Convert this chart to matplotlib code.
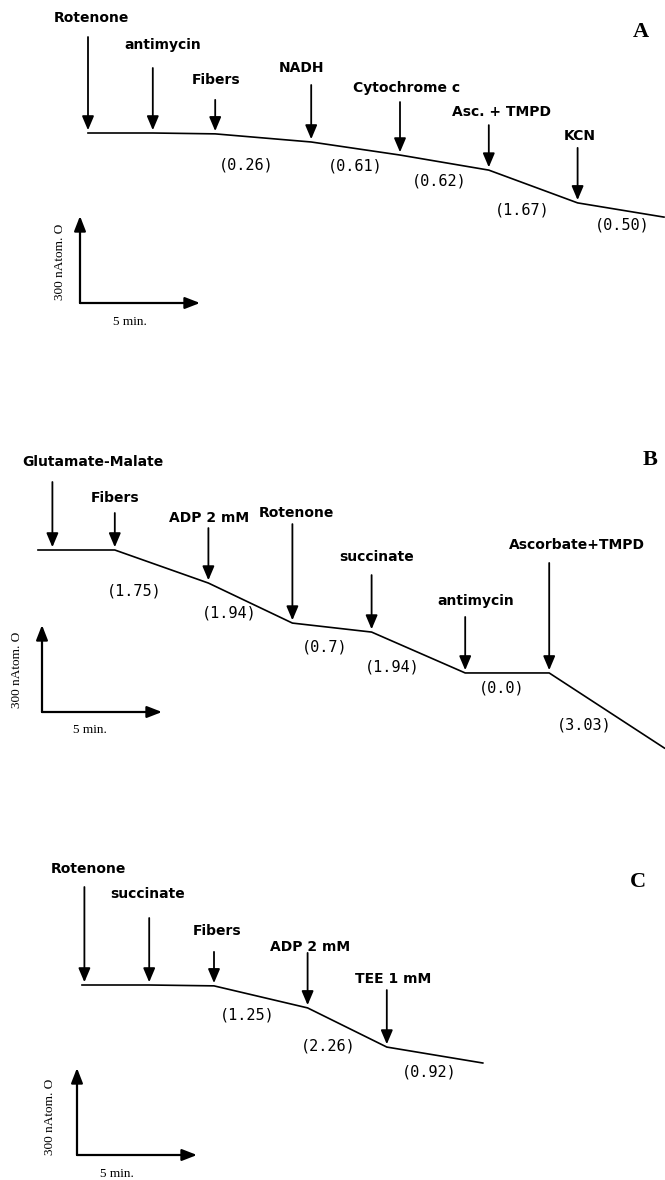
import numpy as np
import matplotlib.pyplot as plt

# ---- data: oxygen consumption traces (time in min, O consumed in nAtom) ----
# panel A
a_time = [0, 2.7, 5.3, 9.3, 13.0, 16.7, 20.4, 24.0]
a_o2 = [0, 0, 3, 31, 76, 128, 241, 290]
a_events = ['Rotenone', 'antimycin', 'Fibers', 'NADH', 'Cytochrome c', 'Asc. + TMPD', 'KCN']
a_event_time = [0, 2.7, 5.3, 9.3, 13.0, 16.7, 20.4]
a_rates = ['(0.26)', '(0.61)', '(0.62)', '(1.67)', '(0.50)']
a_rate_seg = [2, 3, 4, 5, 6]

# panel B
b_time = [0, 3.2, 7.1, 10.6, 13.9, 17.8, 21.3, 26.1]
b_o2 = [0, 0, 114, 252, 283, 424, 424, 683]
b_events = ['Glutamate-Malate', 'Fibers', 'ADP 2 mM', 'Rotenone', 'succinate', 'antimycin', 'Ascorbate+TMPD']
b_event_time = [0.6, 3.2, 7.1, 10.6, 13.9, 17.8, 21.3]
b_rates = ['(1.75)', '(1.94)', '(0.7)', '(1.94)', '(0.0)', '(3.03)']
b_rate_seg = [1, 2, 3, 4, 5, 6]

# panel C
c_time = [0, 2.8, 5.5, 9.4, 12.7, 16.7]
c_o2 = [0, 0, 3, 79, 214, 269]
c_events = ['Rotenone', 'succinate', 'Fibers', 'ADP 2 mM', 'TEE 1 mM']
c_event_time = [0.1, 2.8, 5.5, 9.4, 12.7]
c_rates = ['(1.25)', '(2.26)', '(0.92)']
c_rate_seg = [2, 3, 4]

# scale bars
bar_min = 5
bar_nat = 300

# ---- layout (pixels, y measured downwards) ----
W, H = 665, 1180
PX_MIN = 24.0    # pixels per minute
PX_NAT = 0.29    # pixels per nAtom O

layout = {
    'A': dict(origin=(88, 133),
              arrow_len=[96, 65, 34, 57, 53, 45, 55],
              label_off=[(3, 115), (10, 88), (1, 54), (-10, 74), (7, 67), (13, 58), (2, 67)],
              rate_off=[(-17, 27), (0, 17), (-5, 18), (-11, 23), (1, 15)],
              bar=(80, 303), bar_lab=(-20, -41), min_lab=(50, 19), letter=(641, 32)),
    'B': dict(origin=(38, 550),
              arrow_len=[68, 37, 55, 99, 57, 56, 110],
              label_off=[(40, 88), (0, 52), (1, 65), (4, 110), (5, 75), (11, 72), (28, 128)],
              rate_off=[(-27, 24), (-21, 10), (-7, 19), (-26, 14), (-6, 15), (-23, 14)],
              bar=(42, 712), bar_lab=(-25, -42), min_lab=(48, 18), letter=(650, 460)),
    'C': dict(origin=(82, 985),
              arrow_len=[98, 67, 34, 55, 57],
              label_off=[(4, 116), (-2, 91), (3, 55), (2, 61), (6, 68)],
              rate_off=[(-14, 18), (-19, 19), (-6, 17)],
              bar=(77, 1155), bar_lab=(-27, -38), min_lab=(40, 19), letter=(638, 882)),
}

panels = {
    'A': (a_time, a_o2, a_events, a_event_time, a_rates, a_rate_seg),
    'B': (b_time, b_o2, b_events, b_event_time, b_rates, b_rate_seg),
    'C': (c_time, c_o2, c_events, c_event_time, c_rates, c_rate_seg),
}

fig = plt.figure(figsize=(W / 100, H / 100), dpi=100)

for key, (t, o2, events, ev_t, rates, rate_seg) in panels.items():
    lay = layout[key]
    x0, y0 = lay['origin']
    ax = fig.add_axes([0, 0, 1, 1])
    ax.set_xlim(-x0 / PX_MIN, (W - x0) / PX_MIN)
    ax.set_ylim((H - y0) / PX_NAT, -y0 / PX_NAT)
    ax.axis('off')

    ax.plot(t, o2, color='black', lw=1.2, solid_joinstyle='round')

    # additions (arrows + names)
    for name, te, L, (dx, dy) in zip(events, ev_t, lay['arrow_len'], lay['label_off']):
        lvl = np.interp(te, t, o2)
        ax.annotate('', xy=(te, lvl), xytext=(0, L), textcoords='offset pixels',
                    arrowprops=dict(arrowstyle='-|>,head_length=0.85,head_width=0.36',
                                    mutation_scale=10, lw=1.3, color='black',
                                    shrinkA=0, shrinkB=2))
        ax.annotate(name, xy=(te, lvl), xytext=(dx, dy), textcoords='offset pixels',
                    ha='center', va='center', fontsize=10, fontweight='bold',
                    family='DejaVu Sans')

    # respiration rates under each segment
    for r, s, (dx, dy) in zip(rates, rate_seg, lay['rate_off']):
        tm = (t[s] + t[s + 1]) / 2
        om = (o2[s] + o2[s + 1]) / 2
        ax.annotate(r, xy=(tm, om), xytext=(dx, -dy), textcoords='offset pixels',
                    ha='center', va='center', fontsize=11, family='DejaVu Sans Mono')

    # scale bars
    bx, by = lay['bar']
    bt = (bx - x0) / PX_MIN
    bo = (by - y0) / PX_NAT
    sb = dict(arrowstyle='-|>,head_length=0.9,head_width=0.35', mutation_scale=10,
              lw=1.6, color='black', shrinkA=0, shrinkB=0)
    ax.annotate('', xy=(bt + bar_min, bo), xytext=(bt, bo), arrowprops=sb)
    ax.annotate('', xy=(bt, bo - bar_nat), xytext=(bt, bo), arrowprops=sb)
    ax.annotate(f'{bar_nat} nAtom. O', xy=(bt, bo),
                xytext=(lay['bar_lab'][0], -lay['bar_lab'][1]),
                textcoords='offset pixels', rotation=90, ha='center', va='center',
                fontsize=9.5, family='Liberation Serif')
    ax.annotate(f'{bar_min} min.', xy=(bt, bo),
                xytext=(lay['min_lab'][0], -lay['min_lab'][1]),
                textcoords='offset pixels', ha='center', va='center',
                fontsize=9.5, family='Liberation Serif')

    lx, ly = lay['letter']
    fig.text(lx / W, 1 - ly / H, key, ha='center', va='center', fontsize=16,
             fontweight='bold', family='Liberation Serif')

fig.savefig('out.png', dpi=100)
